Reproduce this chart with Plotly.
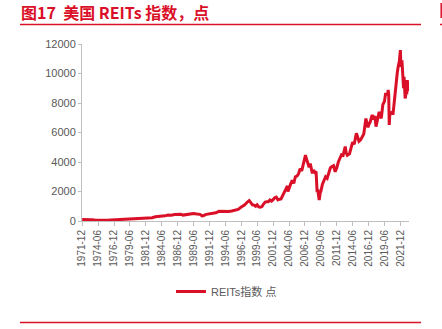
import plotly.graph_objects as go

# ---- data ----
dates = [
    "1971-12", "1972-06", "1972-12", "1973-06", "1973-12", "1974-06", "1974-12", "1975-06", "1975-12",
    "1976-06", "1976-12", "1977-06", "1977-12", "1978-06", "1978-12", "1979-06", "1979-12", "1980-06",
    "1980-12", "1981-06", "1981-12", "1982-06", "1982-12", "1983-06", "1983-12", "1984-06", "1984-12",
    "1985-06", "1985-12", "1986-06", "1986-12", "1987-06", "1987-10", "1987-12", "1988-06", "1988-12",
    "1989-06", "1989-12", "1990-06", "1990-10", "1990-12", "1991-06", "1991-12", "1992-06", "1992-12",
    "1993-06", "1993-12", "1994-06", "1994-12", "1995-06", "1995-12", "1996-06", "1996-12", "1997-06",
    "1997-12", "1998-03", "1998-06", "1998-09", "1998-12", "1999-03", "1999-06", "1999-09", "1999-12",
    "2000-03", "2000-06", "2000-09", "2000-12", "2001-03", "2001-06", "2001-09", "2001-12", "2002-03",
    "2002-06", "2002-09", "2002-12", "2003-03", "2003-06", "2003-09", "2003-12", "2004-03", "2004-04",
    "2004-06", "2004-09", "2004-12", "2005-03", "2005-06", "2005-09", "2005-12", "2006-03", "2006-06",
    "2006-09", "2006-12", "2007-01", "2007-03", "2007-06", "2007-08", "2007-10", "2007-12", "2008-02",
    "2008-04", "2008-07", "2008-09", "2008-10", "2008-11", "2008-12", "2009-02", "2009-03", "2009-05",
    "2009-06", "2009-09", "2009-12", "2010-03", "2010-06", "2010-09", "2010-12", "2011-03", "2011-06",
    "2011-09", "2011-12", "2012-03", "2012-06", "2012-09", "2012-12", "2013-03", "2013-04", "2013-06",
    "2013-08", "2013-12", "2014-03", "2014-06", "2014-09", "2014-12", "2015-01", "2015-03", "2015-06",
    "2015-09", "2015-12", "2016-03", "2016-07", "2016-09", "2016-11", "2016-12", "2017-03", "2017-06",
    "2017-07", "2017-09", "2017-12", "2018-02", "2018-04", "2018-08", "2018-09", "2018-12", "2019-03",
    "2019-06", "2019-08", "2019-12", "2020-01", "2020-02", "2020-03", "2020-04", "2020-06", "2020-09",
    "2020-10", "2020-12", "2021-03", "2021-06", "2021-08", "2021-10", "2021-12", "2022-01", "2022-03",
    "2022-04", "2022-06", "2022-07", "2022-09", "2022-10", "2022-11", "2022-12", "2023-01", "2023-02",
    "2023-03",
]
reits_index = [
    100, 110, 105, 90, 75, 60, 45, 55, 55,
    65, 75, 80, 85, 95, 95, 115, 125, 145,
    160, 180, 180, 175, 220, 290, 300, 310, 350,
    400, 390, 440, 430, 460, 400, 410, 460, 470,
    500, 470, 450, 350, 360, 450, 480, 520, 560,
    660, 640, 650, 640, 680, 740, 790, 950, 1080,
    1300, 1380, 1250, 1100, 1080, 1000, 1100, 960, 930,
    980, 1150, 1280, 1300, 1300, 1420, 1350, 1450, 1580,
    1620, 1430, 1480, 1500, 1720, 1920, 2080, 2380, 2000,
    2250, 2500, 2750, 2550, 3000, 3050, 3200, 3550, 3400,
    3850, 4250, 4470, 4200, 3800, 3650, 3900, 3450, 3230,
    3450, 3300, 3350, 2350, 1950, 2150, 1550, 1420, 1950,
    2000, 2500, 2700, 3000, 2900, 3300, 3600, 3700, 3750,
    3340, 3600, 4000, 4250, 4500, 4450, 4800, 5050, 4600,
    4450, 4550, 4900, 5350, 5200, 5700, 5950, 5750, 5400,
    5500, 5750, 5900, 6950, 6600, 6350, 6500, 6700, 7100,
    7190, 7000, 7100, 6400, 6700, 7400, 7200, 6960, 7900,
    8100, 8600, 8600, 8880, 8540, 6510, 7190, 7300, 7400,
    7200, 8000, 8880, 10000, 10500, 10800, 11590, 10460, 10900,
    10300, 9000, 9780, 8310, 8500, 8800, 8600, 9550, 8880,
    8800,
]
series_name = "REITs指数 点"
title_text = "图17  美国 REITs 指数，点"

# ---- layout geometry ----
W, H = 442, 329
L, R, T, B = 82, 409, 44, 221  # plot area in pixels


def px_x(p):
    return (p - L) / (R - L)


def px_y(q):
    return (B - q) / (B - T)


RED = "#DA1028"
GREY_TXT = "#595959"
AXIS = "#BFBFBF"

fig = go.Figure()
fig.add_trace(go.Scatter(
    x=[d + "-01" for d in dates], y=reits_index, mode="lines", name=series_name,
    line=dict(color=RED, width=3), showlegend=True,
))

fig.update_layout(
    width=W, height=H,
    margin=dict(l=L, r=W - R, t=T, b=H - B, pad=0),
    paper_bgcolor="white", plot_bgcolor="white",
    font=dict(family="Liberation Sans, Noto Sans CJK SC", color=GREY_TXT, size=11),
    xaxis=dict(
        type="date", range=["1971-11-20", "2023-04-10"],
        tick0="1971-12-01", dtick="M30", tickformat="%Y-%m", tickangle=-90,
        showgrid=False, zeroline=False, showline=True, linecolor=AXIS, linewidth=1,
        ticks="outside", ticklen=4, tickcolor=AXIS, tickfont=dict(size=10, color=GREY_TXT),
    ),
    yaxis=dict(
        range=[0, 12000], dtick=2000, tickformat="d",
        showgrid=False, zeroline=False, showline=True, linecolor=AXIS, linewidth=1,
        ticks="outside", ticklen=3, tickcolor=AXIS, tickfont=dict(size=11, color=GREY_TXT),
    ),
    legend=dict(
        orientation="h", x=px_x(171), y=px_y(277), xanchor="left", yanchor="top",
        font=dict(size=11, color=GREY_TXT, family="Liberation Sans, Noto Sans CJK SC"),
        bgcolor="rgba(0,0,0,0)", itemwidth=30,
    ),
    showlegend=True,
)

fig.add_annotation(
    text="<b>" + title_text + "</b>", xref="paper", yref="paper",
    x=px_x(19), y=px_y(12), xanchor="left", yanchor="middle", showarrow=False,
    font=dict(size=16, color=RED, family="Noto Sans CJK SC, Liberation Sans"),
)

line_style = dict(color=RED, width=1.5)
fig.add_shape(type="line", xref="paper", yref="paper",
              x0=px_x(20), x1=px_x(421), y0=px_y(24.5), y1=px_y(24.5), line=line_style)
fig.add_shape(type="line", xref="paper", yref="paper",
              x0=px_x(20), x1=px_x(421), y0=px_y(322.5), y1=px_y(322.5), line=line_style)
fig.add_shape(type="line", xref="paper", yref="paper",
              x0=px_x(440), x1=px_x(442), y0=px_y(24.5), y1=px_y(24.5), line=line_style)
fig.add_shape(type="line", xref="paper", yref="paper",
              x0=px_x(441.2), x1=px_x(441.2), y0=px_y(3), y1=px_y(18), line=line_style)

fig.write_html("out.html")
